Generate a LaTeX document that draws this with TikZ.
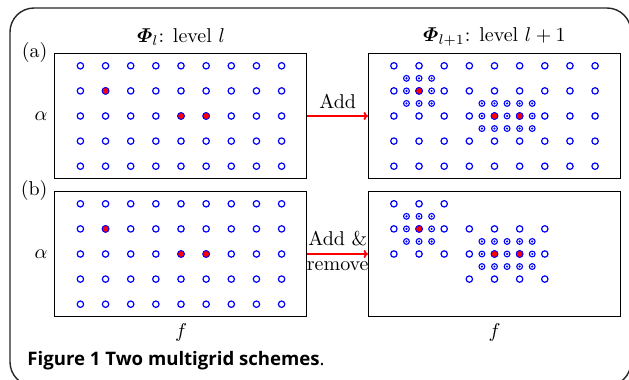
\documentclass[tikz,border=0pt]{standalone}
\usepackage{amsmath,amssymb}
\usepackage{fontspec}
\newfontfamily\capfont{Open Sans}
\usetikzlibrary{arrows.meta, positioning, calc}

\begin{document}
\begin{tikzpicture}[
    x=0.5pt, y=-0.5pt,
    panel/.style={draw, line width=0.5pt, rectangle, minimum width=126pt, minimum height=62.5pt, inner sep=0pt},
    coarse/.style={draw=blue, line width=0.6pt},
    fine/.style={draw=blue, line width=0.55pt},
    picked/.style={draw=blue, fill=red, line width=0.4pt},
    grid/.style={shift={#1}, x=12.575pt, y=-12.55pt},
    line/.style={draw=red, ->, >={To[length=2.2pt, width=4pt]}, line width=0.9pt}
]
    \useasboundingbox (0,0) rectangle (629,380);
    \begin{scope}
        \clip (0,0) rectangle (629,380);
        \draw[line width=0.7pt, black!85, rounded corners=12pt] (10,8) rectangle (631,386);
    \end{scope}

    % panels
    \node[panel] (a1) at (181,116) {};
    \node[panel] (a2) at (494.5,116) {};
    \node[panel] (b1) at (181,254) {};
    \node[panel] (b2) at (494.5,254) {};

    \node[above=0pt of a1] (ta) {$\boldsymbol{\varPhi}_l$: level $l$};
    \node[above=0pt of a2] (tb) {$\boldsymbol{\varPhi}_{l+1}$: level $l+1$};
    \node[left=0pt of a1.north west] (la) {(a)};
    \node[left=0pt of b1.north west] (lb) {(b)};
    \node[left=0pt of a1] (alphaa) {$\alpha$};
    \node[left=0pt of b1] (alphab) {$\alpha$};
    \node[below=0pt of b1] (fa) {$f$};
    \node[below=0pt of b2] (fb) {$f$};

    \draw[line] (a1) -- (a2) node[midway, above, text=black] {Add};
    \draw[line] (b1) -- (b2) node[midway, above, text=black] {Add \&}
                             node[midway, below, text=black] {remove};

    % level l: full grid
    \foreach \p in {a1, b1} {
        \begin{scope}[grid={($(\p.center)+(-100.6,-50.2)$)}]
            \foreach \i in {0,...,8}
                \foreach \j in {0,...,4}
                    \draw[coarse] (\i,\j) circle[radius=1.6pt];
            \foreach \q in {(1,1), (4,2), (5,2)}
                \draw[picked] \q circle[radius=1.7pt];
        \end{scope}
    }

    % level l+1 (a): all coarse points kept
    \begin{scope}[grid={($(a2.center)+(-100.6,-50.2)$)}]
        \foreach \i in {0,...,8}
            \foreach \j in {0,...,4}
                \draw[coarse] (\i,\j) circle[radius=1.6pt];
    \end{scope}

    % level l+1 (b): only neighbours kept
    \begin{scope}[grid={($(b2.center)+(-100.6,-50.2)$)}]
        \foreach \i in {0,1,2}
            \foreach \j in {0,1,2}
                \draw[coarse] (\i,\j) circle[radius=1.6pt];
        \foreach \i in {3,...,6}
            \foreach \j in {1,2,3}
                \draw[coarse] (\i,\j) circle[radius=1.6pt];
    \end{scope}

    % refined points
    \foreach \p in {a2, b2} {
        \begin{scope}[grid={($(\p.center)+(-100.6,-50.2)$)}]
            \foreach \u in {0.5,1,1.5}
                \foreach \v in {0.5,1,1.5} {
                    \draw[fine] (\u,\v) circle[radius=1.45pt];
                    \fill[blue] (\u,\v) circle[radius=0.6pt];
                }
            \foreach \u in {3.5,4,...,5.5}
                \foreach \v in {1.5,2,2.5} {
                    \draw[fine] (\u,\v) circle[radius=1.45pt];
                    \fill[blue] (\u,\v) circle[radius=0.6pt];
                }
            \foreach \q in {(1,1), (4,2), (5,2)}
                \draw[picked] \q circle[radius=1.7pt];
        \end{scope}
    }

    \node[anchor=base west, inner sep=0pt, font=\capfont\fontsize{9.3}{11}\selectfont] (cap) at (27,366)
        {\textbf{Figure 1 Two multigrid schemes}.};
\end{tikzpicture}
\end{document}
